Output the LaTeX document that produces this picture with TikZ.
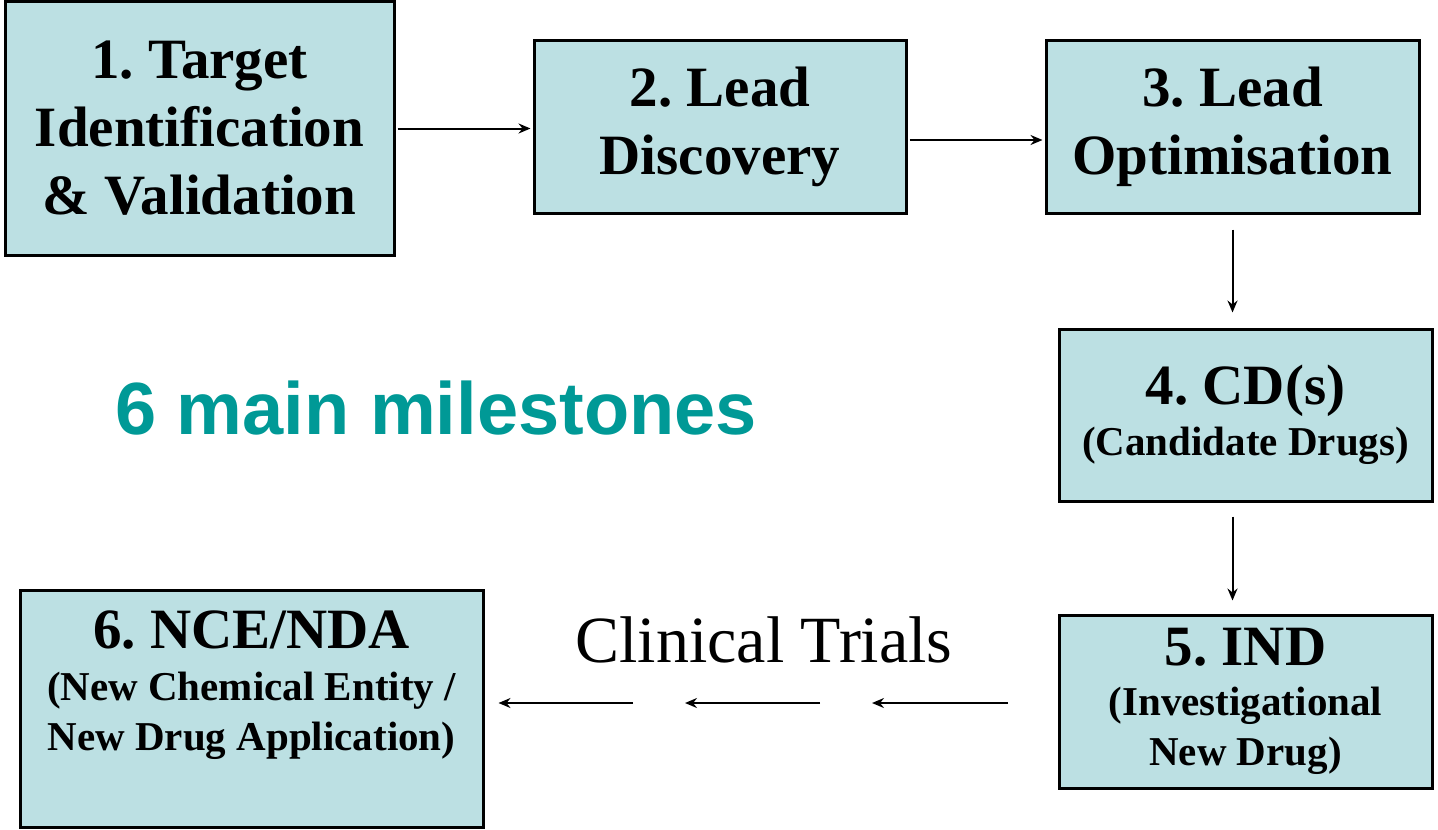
\documentclass[tikz,border=0pt]{standalone}
\usepackage{fontspec}
\setmainfont{Liberation Serif}
\newfontfamily\titlefont{Liberation Sans}
\usetikzlibrary{arrows.meta, positioning, calc}
\definecolor{stagefill}{RGB}{188,224,227}
\definecolor{milestoneteal}{RGB}{0,153,150}
\newcommand{\headsize}{\fontsize{28.5}{34}\selectfont}
\newcommand{\subsize}{\fontsize{20.5}{25}\selectfont}
\frenchspacing

\begin{document}
\begin{tikzpicture}[x=0.5pt, y=-0.5pt,
    stage/.style={draw, line width=1.5pt, fill=stagefill, align=center, inner sep=0pt, font=\bfseries\subsize},
    flow/.style={-{Stealth[length=6pt, width=5pt, inset=2pt]}, line width=1pt}]
    \useasboundingbox (0,0) rectangle (1438,829);

    % Upper row
    \node[stage, minimum width=194.5pt, minimum height=126.5pt, font=\bfseries\headsize] (target) at (199.5,128.5) {1. Target\\Identification\\\& Validation};
    \node[stage, minimum width=186pt, minimum height=86pt, font=\bfseries\headsize] (discovery) at (720,127) {2. Lead\\Discovery};
    \node[stage, minimum width=186.5pt, minimum height=86pt, font=\bfseries\headsize] (optimisation) at (1232.5,127) {3. Lead\\Optimisation};

    % Right column
    \node[stage, minimum width=186.5pt, minimum height=86pt] (candidate) at (1245.5,415) {{\headsize 4. CD(s)}\\[0.5pt](Candidate Drugs)};
    \node[stage, minimum width=186.5pt, minimum height=86.5pt] (ind) at (1245.5,701.5) {{\headsize 5. IND}\\(Investigational\\New Drug)};

    % Final milestone
    \node[stage, minimum width=231.5pt, minimum height=118.5pt] (approval) at (251.5,708.5) {};
    \node[align=center, inner sep=0pt, font=\bfseries\subsize] (approvaltext) at ([yshift=11.5pt]approval.center) {{\headsize 6. NCE/NDA}\\[1pt](New Chemical Entity /\\New Drug Application)};

    % Labels
    \node[font=\titlefont\bfseries\fontsize{37}{44}\selectfont, text=milestoneteal] (milestones) at (436,408) {6 main milestones};
    \node[font=\fontsize{33}{40}\selectfont] (trials) at (764,640) {Clinical Trials};

    % Stage arrows
    \draw[flow, shorten <=1pt, shorten >=1pt] (target.east) -- (target.east -| discovery.west);
    \draw[flow, shorten <=1pt, shorten >=1pt] ([yshift=-6.5pt]discovery.east) -- ([yshift=-6.5pt]discovery.east -| optimisation.west);
    \draw[flow, shorten <=7.5pt, shorten >=7.5pt] (optimisation.south) -- (optimisation.south |- candidate.north);
    \draw[flow, shorten <=7pt, shorten >=6.5pt] (candidate.south -| optimisation.south) -- (ind.north -| optimisation.south);

    % Clinical trials arrows
    \coordinate (trialA) at (1008,703);
    \coordinate (trialB) at (872,703);
    \coordinate (trialC) at (820,703);
    \coordinate (trialD) at (685,703);
    \coordinate (trialE) at (633,703);
    \draw[flow] (trialA) -- (trialB);
    \draw[flow] (trialC) -- (trialD);
    \draw[flow, shorten >=7pt] (trialE) -- (trialE -| approval.east);
\end{tikzpicture}
\end{document}
